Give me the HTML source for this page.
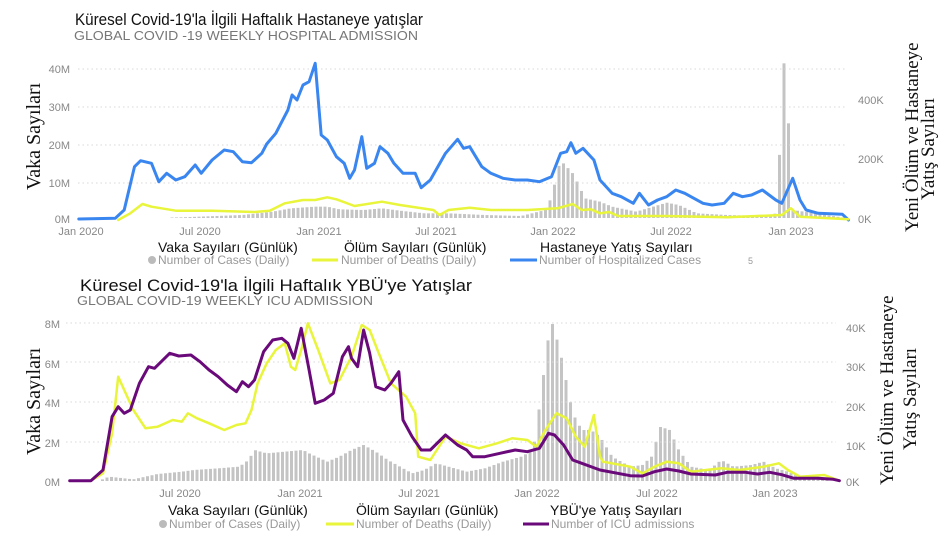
<!DOCTYPE html>
<html><head><meta charset="utf-8"><style>
body{margin:0;background:#fff;width:945px;height:534px;overflow:hidden;font-family:"Liberation Sans",sans-serif}
svg{position:absolute;left:0;top:0}
</style></head><body>
<svg id="s" width="945" height="534" xmlns="http://www.w3.org/2000/svg" font-family="Liberation Sans, sans-serif">
<g id="bars" fill="#c4c4c4"></g>
<g id="grid" stroke="#d8d8d8" stroke-dasharray="1.5,3" stroke-width="1"></g>
<g id="lines" fill="none" stroke-linejoin="round" stroke-linecap="round"></g>
<!-- top texts -->
<text x="75" y="25" font-size="17" fill="#111" transform="scale(1,1)" textLength="348" lengthAdjust="spacingAndGlyphs">Küresel Covid-19'la İlgili Haftalık Hastaneye yatışlar</text>
<text x="74" y="40" font-size="13" fill="#777" textLength="344" lengthAdjust="spacingAndGlyphs">GLOBAL COVID -19 WEEKLY HOSPITAL ADMISSION</text>
<text font-family="Liberation Serif, serif" font-size="20" fill="#111" transform="translate(40,190) rotate(-90)">Vaka Sayıları</text>
<text font-family="Liberation Serif, serif" font-size="19" fill="#111" transform="translate(918,232) rotate(-90)">Yeni Ölüm ve Hastaneye</text>
<text font-family="Liberation Serif, serif" font-size="19" fill="#111" transform="translate(934,200) rotate(-90)">Yatış Sayıları</text>
<g font-size="11" fill="#888" text-anchor="end">
<text x="70" y="73">40M</text><text x="70" y="111">30M</text><text x="70" y="149">20M</text><text x="70" y="187">10M</text><text x="70" y="223">0M</text>
</g>
<g font-size="11" fill="#888">
<text x="858" y="104">400K</text><text x="858" y="163">200K</text><text x="858" y="223">0K</text>
</g>
<g font-size="11" fill="#888" text-anchor="middle">
<text x="81" y="235">Jan 2020</text><text x="200" y="235">Jul 2020</text><text x="319" y="235">Jan 2021</text><text x="436" y="235">Jul 2021</text><text x="553" y="235">Jan 2022</text><text x="671" y="235">Jul 2022</text><text x="791" y="235">Jan 2023</text>
</g>
<g font-size="14" fill="#111">
<text x="158" y="252">Vaka Sayıları (Günlük)</text><text x="344" y="252">Ölüm Sayıları (Günlük)</text><text x="540" y="252">Hastaneye Yatış Sayıları</text>
</g>
<g font-size="12" fill="#999">
<circle cx="152" cy="260" r="4" fill="#bbb"/><text x="158" y="264">Number of Cases (Daily)</text>
<line x1="312" y1="260" x2="338" y2="260" stroke="#e8f53a" stroke-width="3"/><text x="341" y="264">Number of Deaths (Daily)</text>
<line x1="510" y1="260" x2="537" y2="260" stroke="#3a86f0" stroke-width="3"/><text x="539" y="264">Number of Hospitalized Cases</text>
<text x="748" y="264" font-size="9">5</text>
</g>
<!-- bottom texts -->
<text x="80" y="291" font-size="17" fill="#111" textLength="392" lengthAdjust="spacingAndGlyphs">Küresel Covid-19'la İlgili Haftalık YBÜ'ye Yatışlar</text>
<text x="77" y="305" font-size="13" fill="#777" textLength="296" lengthAdjust="spacingAndGlyphs">GLOBAL COVID-19 WEEKLY ICU ADMISSION</text>
<text font-family="Liberation Serif, serif" font-size="20" fill="#111" transform="translate(40,455) rotate(-90)">Vaka Sayıları</text>
<text font-family="Liberation Serif, serif" font-size="19" fill="#111" transform="translate(893,485) rotate(-90)">Yeni Ölüm ve Hastaneye</text>
<text font-family="Liberation Serif, serif" font-size="19" fill="#111" transform="translate(916,450) rotate(-90)">Yatış Sayıları</text>
<g font-size="11" fill="#888" text-anchor="end">
<text x="60" y="328">8M</text><text x="60" y="368">6M</text><text x="60" y="407">4M</text><text x="60" y="447">2M</text><text x="60" y="486">0M</text>
</g>
<g font-size="11" fill="#888">
<text x="846" y="332">40K</text><text x="846" y="371">30K</text><text x="846" y="411">20K</text><text x="846" y="450">10K</text><text x="846" y="486">0K</text>
</g>
<g font-size="11" fill="#888" text-anchor="middle">
<text x="180" y="497">Jul 2020</text><text x="300" y="497">Jan 2021</text><text x="419" y="497">Jul 2021</text><text x="537" y="497">Jan 2022</text><text x="657" y="497">Jul 2022</text><text x="775" y="497">Jan 2023</text>
</g>
<g font-size="14" fill="#111">
<text x="168" y="515">Vaka Sayıları (Günlük)</text><text x="356" y="515">Ölüm Sayıları (Günlük)</text><text x="550" y="515">YBÜ'ye Yatış Sayıları</text>
</g>
<g font-size="12" fill="#999">
<circle cx="163" cy="524" r="4" fill="#bbb"/><text x="169" y="528">Number of Cases (Daily)</text>
<line x1="326" y1="524" x2="354" y2="524" stroke="#e8f53a" stroke-width="3"/><text x="356" y="528">Number of Deaths (Daily)</text>
<line x1="523" y1="524" x2="549" y2="524" stroke="#6a0a7a" stroke-width="3"/><text x="551" y="528">Number of ICU admissions</text>
</g>
</svg>
<script>
var NS="http://www.w3.org/2000/svg";
function el(p,t,a){var e=document.createElementNS(NS,t);for(var k in a)e.setAttribute(k,a[k]);document.getElementById(p).appendChild(e);return e;}
function pts(arr,oy){var r=[];for(var i=0;i<arr.length;i+=2)r.push([arr[i]/1.65,oy+arr[i+1]/3]);return r;}
function path(p,c,w){el("lines","path",{d:"M"+p.map(function(q){return q[0].toFixed(1)+","+q[1].toFixed(1)}).join("L"),stroke:c,"stroke-width":w});}
function interp(p,x){if(x<=p[0][0])return p[0][1];for(var i=1;i<p.length;i++){if(x<=p[i][0]){var a=p[i-1],b=p[i];return a[1]+(b[1]-a[1])*(x-a[0])/(b[0]-a[0]);}}return p[p.length-1][1];}
function bars(p,x0,x1,base){for(var x=x0;x<=x1;x+=4.5){var y=interp(p,x);if(base-y>0.5)el("bars","rect",{x:x-1.5,y:y,width:3,height:base-y});}}
// grids
[69,107,145,183].forEach(function(y){el("grid","line",{x1:78,x2:845,y1:y,y2:y});});
[323,362,402,442].forEach(function(y){el("grid","line",{x1:66,x2:836,y1:y,y2:y});});
// top
var tb=pts([130,657,200,655,300,652,400,645,450,635,480,625,520,620,540,620,560,628,600,630,630,625,660,632,700,640,740,640,800,645,860,648,900,630,905,610,912,585,920,500,930,490,945,520,955,555,965,595,990,605,1010,620,1050,635,1100,608,1120,615,1150,640,1200,645,1270,648,1280,640,1285,520,1292,190,1296,190,1300,370,1304,370,1308,630,1400,655],0);
bars(tb,82,843,218);
path(pts([130,657,190,655,205,630,222,500,232,482,250,490,262,545,275,520,290,540,305,530,322,495,332,520,350,480,370,450,385,455,400,485,415,488,432,460,440,432,455,400,475,330,482,285,490,300,500,255,510,245,520,190,530,405,540,420,555,470,568,490,577,535,585,510,597,410,605,505,618,490,627,440,640,460,650,490,665,520,685,520,695,563,710,540,735,460,755,418,765,445,775,440,795,500,810,520,830,535,850,540,870,540,890,545,910,530,925,460,935,455,942,428,950,460,962,445,980,480,990,540,1010,580,1025,590,1045,610,1055,580,1070,615,1085,600,1100,590,1115,570,1130,580,1160,610,1175,615,1195,610,1210,580,1225,590,1240,585,1258,570,1280,600,1290,610,1308,535,1320,600,1330,630,1350,640,1390,643,1400,660],0),"#3a86f0",3);
path(pts([195,660,215,640,235,612,250,620,290,632,350,632,420,636,445,632,470,610,500,600,520,600,540,592,555,598,585,618,630,605,660,615,715,630,725,645,740,630,775,623,810,630,870,630,920,625,945,612,960,630,975,628,990,640,1005,636,1020,648,1100,648,1200,652,1290,645,1305,625,1320,650,1400,658],0),"#e8f53a",2.5);
// bottom
var bb=pts([160,635,180,620,220,628,260,612,300,605,320,600,360,595,395,590,410,570,420,540,440,550,470,545,500,540,510,550,540,575,560,560,580,540,600,525,620,545,640,570,660,590,680,610,700,600,720,580,740,590,770,605,800,595,830,575,860,560,880,540,890,410,905,200,912,160,925,250,935,340,945,430,960,480,975,480,990,500,1010,560,1040,590,1060,585,1075,560,1090,470,1105,480,1120,540,1140,590,1170,600,1190,570,1210,590,1240,585,1260,575,1280,595,1300,605,1320,620,1370,630],270);
bars(bb,98,830,481);
path(pts([115,632,150,632,170,610,185,490,195,320,205,360,220,420,240,475,260,470,285,450,300,455,310,430,325,445,345,460,370,480,390,465,405,460,415,420,425,340,440,280,455,240,470,220,480,290,487,300,497,240,508,160,525,240,545,340,560,330,580,260,597,165,610,180,625,250,645,340,670,380,685,430,690,560,710,570,735,500,760,520,790,535,820,520,845,505,870,510,885,530,900,480,918,430,935,445,950,500,965,530,980,435,990,560,995,575,1040,590,1060,610,1080,590,1100,575,1120,580,1140,605,1190,595,1220,600,1260,590,1285,580,1300,600,1320,620,1360,615,1385,632],270),"#e8f53a",2.5);
path(pts([115,632,150,632,170,600,185,440,195,410,205,430,215,420,230,340,245,290,255,295,280,250,295,258,315,255,330,275,345,300,360,320,375,345,390,365,400,335,410,350,420,330,435,245,450,210,465,205,475,220,485,265,497,175,510,300,520,400,535,390,550,370,565,260,575,230,580,265,590,290,600,180,610,250,620,350,635,360,645,340,658,305,665,450,680,500,695,540,710,540,735,495,755,525,770,540,780,560,800,560,825,550,850,540,870,545,890,535,905,490,915,495,930,525,945,570,960,580,990,600,1040,617,1060,618,1080,605,1100,597,1120,603,1140,612,1180,615,1200,607,1230,607,1250,612,1270,607,1290,614,1310,625,1350,625,1375,628,1385,632],270),"#6a0a7a",3);
</script>
</body></html>
